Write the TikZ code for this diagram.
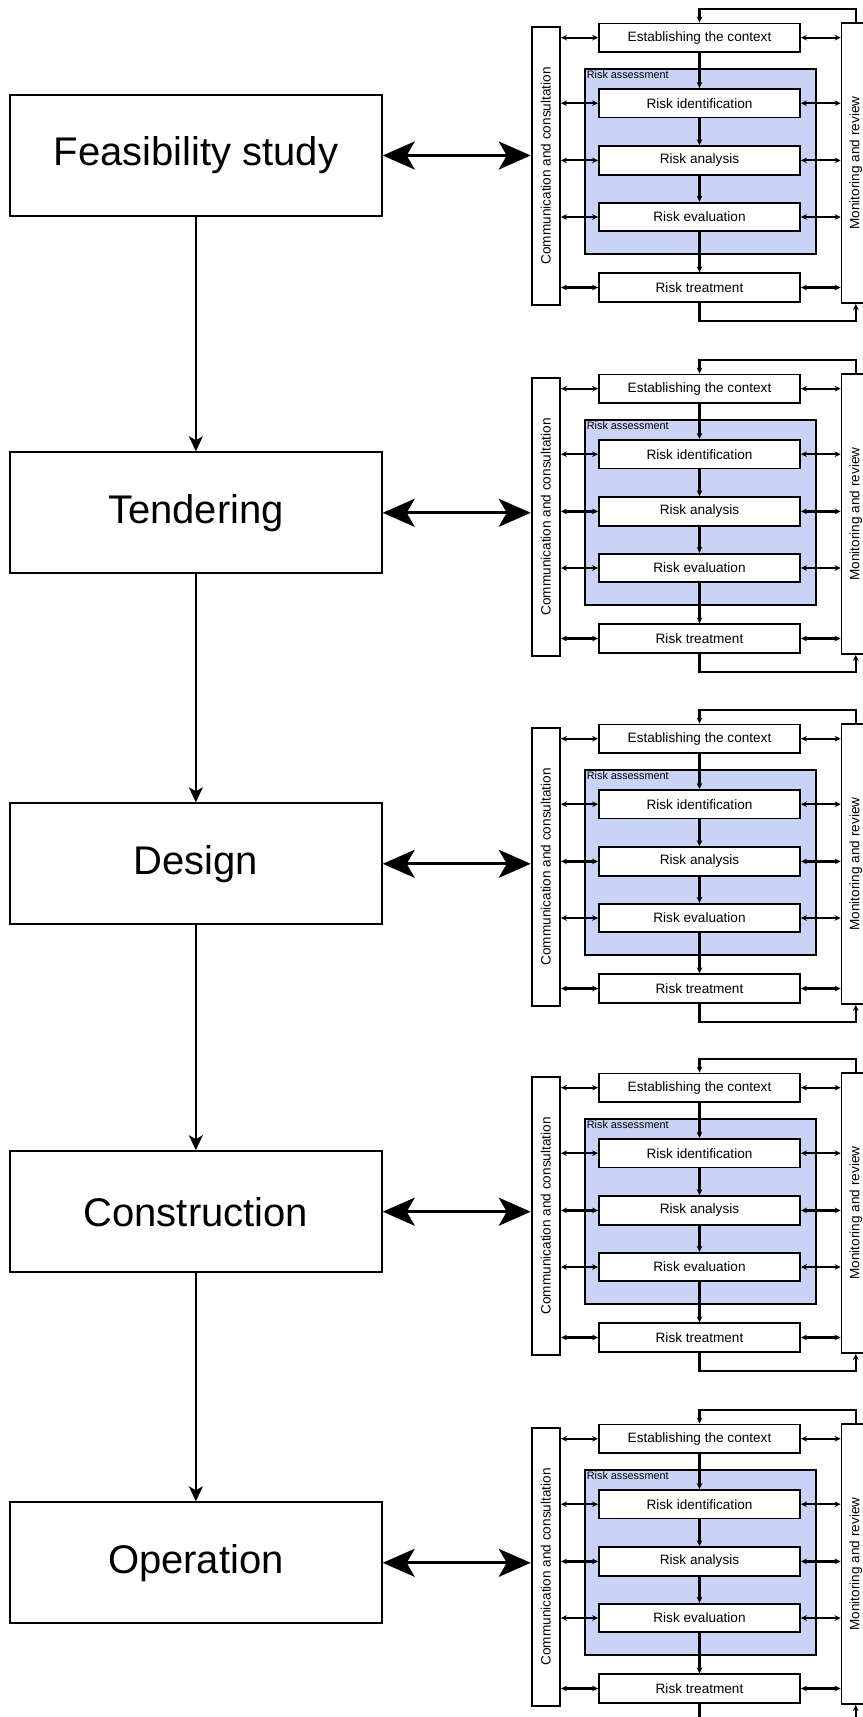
\documentclass[tikz,border=0pt]{standalone}
\usepackage{fontspec}
\setmainfont{Liberation Sans}
\usetikzlibrary{arrows.meta}
\definecolor{assessblue}{RGB}{201,211,245}

\tikzset{
  stagebox/.style={draw, line width=1pt, minimum width=185.85pt, minimum height=60.5pt, font=\fontsize{20}{24}\selectfont},
  procbox/.style={draw, fill=white, line width=0.9pt, minimum width=100.5pt, minimum height=14.25pt, inner sep=0pt, font=\fontsize{6.8}{8}\selectfont},
  sidebox/.style={draw, fill=white, line width=0.9pt, minimum width=14.2pt, minimum height=139pt, inner sep=0pt, font=\fontsize{6.8}{8}\selectfont},
  assessbox/.style={draw, fill=assessblue, line width=0.9pt, minimum width=115.5pt, minimum height=92.5pt},
  flow/.style={line width=1.1pt, -{Stealth[length=3pt,width=2.8pt]}},
  talk/.style={line width=1.1pt, {Stealth[length=3pt,width=2.8pt]}-{Stealth[length=3pt,width=2.8pt]}},
  bigtalk/.style={line width=1.4pt, {Stealth[length=16pt,width=14pt,inset=4pt]}-{Stealth[length=16pt,width=14pt,inset=4pt]}},
  stageflow/.style={line width=1pt, -{Stealth[length=7.5pt,width=7pt,inset=2pt]}},
}

\begin{document}
\begin{tikzpicture}[x=0.5pt, y=-0.5pt]
  \useasboundingbox (0,0) rectangle (862,1717);

  % Project stages
  \foreach \name/\txt/\ypos in {st1/Feasibility study/155.5, st2/Tendering/512.8, st3/Design/863.8, st4/Construction/1211.7, st5/Operation/1562.8}
    \node[stagebox] (\name) at (195.85,\ypos) {\txt};

  \draw[stageflow] (st1) -- (st2);
  \draw[stageflow] (st2) -- (st3);
  \draw[stageflow] (st3) -- (st4);
  \draw[stageflow] (st4) -- (st5);

  % Risk management process, one per stage
  \foreach \k/\dy in {1/0, 2/351, 3/701, 4/1050, 5/1401} {
    \begin{scope}[shift={(0,\dy)}]
      \node[assessbox] (ra\k) at (700.5,161.5) {};
      \node[anchor=north west, inner sep=1.2pt, font=\fontsize{5.4}{6}\selectfont] (ral\k) at (ra\k.north west) {Risk assessment};

      \node[procbox] (ctx\k) at (699.5,37.7) {Establishing the context};
      \node[procbox] (id\k) at (699.5,103.2) {Risk identification};
      \node[procbox] (an\k) at (699.5,160.4) {Risk analysis};
      \node[procbox] (ev\k) at (699.5,217) {Risk evaluation};
      \node[procbox] (tr\k) at (699.5,287.5) {Risk treatment};

      \node[sidebox] (com\k) at (545.85,165.85) {\rotatebox{90}{Communication and consultation}};
      \node[sidebox, minimum height=140pt] (mon\k) at (855.75,163) {\rotatebox{90}{Monitoring and review}};

      % steps
      \draw[flow] (ctx\k) -- (id\k);
      \draw[flow] (id\k) -- (an\k);
      \draw[flow] (an\k) -- (ev\k);
      \draw[flow] (ev\k) -- (tr\k);

      % communication and monitoring links
      \foreach \p in {ctx,id,an,ev,tr} {
        \draw[talk] (com\k.east |- \p\k) -- (\p\k.west);
        \draw[talk] (\p\k.east) -- (mon\k.west |- \p\k);
      }

      % review loop
      \draw[flow] (mon\k.north) -- ++(0,-13) -| (ctx\k.north);
      \draw[flow] (tr\k.south) -- ++(0,18.5) -| (mon\k.south);
    \end{scope}
    \draw[bigtalk] (st\k.east) -- (com\k.west |- st\k.east);
  }
\end{tikzpicture}
\end{document}
